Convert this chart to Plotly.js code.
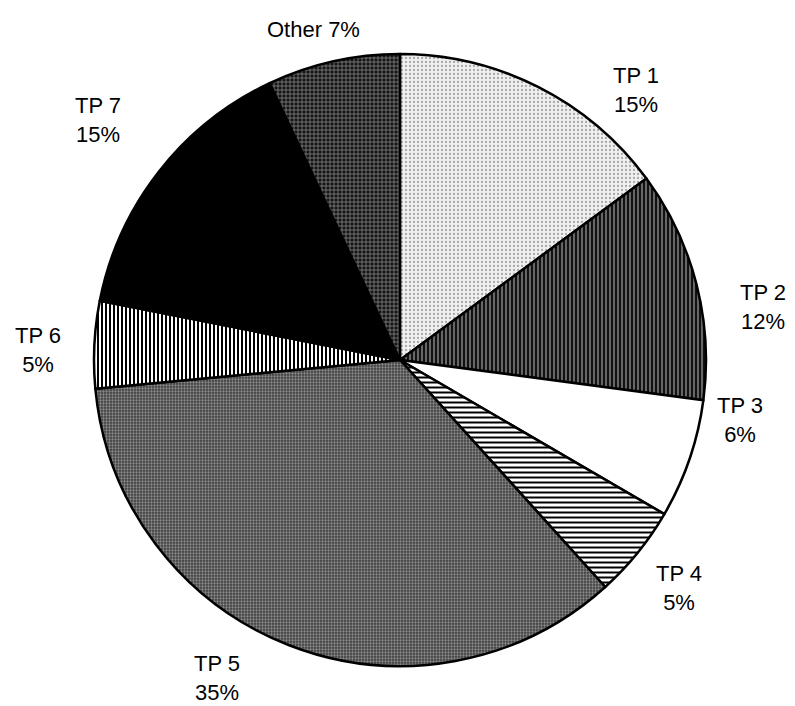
<!DOCTYPE html>
<html>
<head>
<meta charset="utf-8">
<script src="https://cdn.plot.ly/plotly-3.0.1.min.js"></script>
<style>html,body{margin:0;padding:0;background:#fff;}#chart{width:795px;height:706px;}</style>
</head>
<body>
<div id="chart"></div>
<script>
// Data
var categories = ["TP 1", "TP 2", "TP 3", "TP 4", "TP 5", "TP 6", "TP 7", "Other"];
var shares = [14.9, 12.2, 6.3, 4.9, 35.2, 4.6, 14.9, 7.0];
var percentLabels = ["15%", "12%", "6%", "5%", "35%", "5%", "15%", "7%"];

// Styles (grayscale textures)
var fillColors = ["#e4e4e4", "#2a2a2a", "#ffffff", "#bdbdbd", "#555555", "#8a8a8a", "#000000", "#2a2a2a"];
var patShapes  = [".", "|", "", "-", ".", "|", "", "+"];
var patBg      = ["#f0f0f0", "#111111", "#ffffff", "#ffffff", "#404040", "#ffffff", "#000000", "#151515"];
var patFg      = ["#a8a8a8", "#a0a0a0", "#000000", "#000000", "#8c8c8c", "#000000", "#000000", "#9a9a9a"];
var patSize    = [4, 4, 4, 5, 3, 4, 4, 4];
var patSolid   = [0.25, 0.3, 0.3, 0.4, 0.45, 0.5, 0.3, 0.3];

// Label placement (pixel centres in the 795x706 frame), kept apart from data
var labelPx = [[636, 90], [763, 307], [740, 420], [679, 588], [217, 678], [38, 350], [98, 120], [313, 30]];
var singleLine = [false, false, false, false, false, false, false, true];

var W = 795, H = 706;
var cx = 400, cy = 360, r = 306;

var annotations = categories.map(function (c, i) {
  return {
    text: singleLine[i] ? (c + " " + percentLabels[i]) : (c + "<br>" + percentLabels[i]),
    x: labelPx[i][0] / W,
    y: 1 - labelPx[i][1] / H,
    xref: "paper", yref: "paper",
    xanchor: "center", yanchor: "middle",
    showarrow: false,
    align: "center",
    font: {family: "Liberation Sans, Arial, sans-serif", size: 22, color: "#000"}
  };
});

var trace = {
  type: "pie",
  labels: categories,
  values: shares,
  sort: false,
  direction: "clockwise",
  rotation: 0,
  textinfo: "none",
  hoverinfo: "skip",
  domain: {
    x: [(cx - r) / W, (cx + r) / W],
    y: [(H - cy - r) / H, (H - cy + r) / H]
  },
  marker: {
    colors: fillColors,
    line: {color: "#000", width: 2.5},
    pattern: {
      shape: patShapes,
      bgcolor: patBg,
      fgcolor: patFg,
      size: patSize,
      solidity: patSolid,
      fillmode: "replace"
    }
  }
};

var layout = {
  width: W, height: H,
  margin: {l: 0, r: 0, t: 0, b: 0},
  paper_bgcolor: "#fff",
  plot_bgcolor: "#fff",
  showlegend: false,
  annotations: annotations,
  font: {family: "Liberation Sans, Arial, sans-serif"}
};

Plotly.newPlot("chart", [trace], layout, {staticPlot: true, displayModeBar: false});
</script>
</body>
</html>
